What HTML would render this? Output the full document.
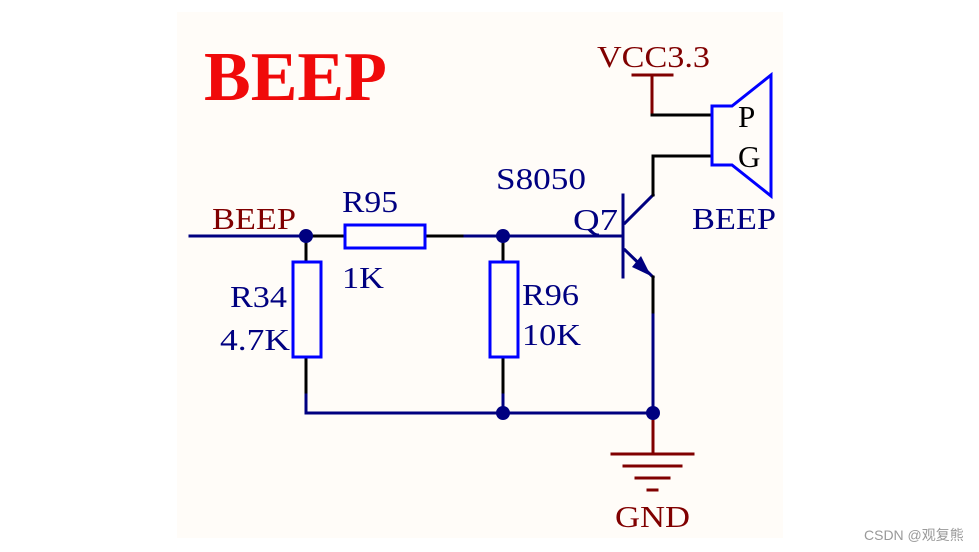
<!DOCTYPE html>
<html><head><meta charset="utf-8"><style>
html,body{margin:0;padding:0;background:#fff;}
svg{display:block;}
text{font-family:"Liberation Serif",serif;}
</style></head><body>
<svg width="979" height="552" viewBox="0 0 979 552" xmlns="http://www.w3.org/2000/svg">
<rect x="177" y="12" width="606" height="526" fill="#fffcf8"/>
<text x="204" y="100" font-size="70" font-weight="bold" fill="#f00a0a">BEEP</text>
<g stroke-width="3" fill="none" stroke-linecap="square">
<line x1="190" y1="236" x2="306" y2="236" stroke="#000080"/>
<line x1="306" y1="236" x2="345" y2="236" stroke="#000"/>
<line x1="425" y1="236" x2="465" y2="236" stroke="#000"/>
<line x1="465" y1="236" x2="622" y2="236" stroke="#000080"/>
<line x1="306" y1="236" x2="306" y2="262" stroke="#000"/>
<line x1="306" y1="357" x2="306" y2="395" stroke="#000"/>
<line x1="306" y1="395" x2="306" y2="413" stroke="#000080"/>
<line x1="503" y1="236" x2="503" y2="262" stroke="#000"/>
<line x1="503" y1="357" x2="503" y2="395" stroke="#000"/>
<line x1="503" y1="395" x2="503" y2="413" stroke="#000080"/>
<line x1="306" y1="413" x2="653" y2="413" stroke="#000080"/>
<line x1="623" y1="195" x2="623" y2="277" stroke="#000080"/>
<line x1="625" y1="223" x2="653" y2="195" stroke="#000080"/>
<line x1="653" y1="195" x2="653" y2="156" stroke="#000"/>
<line x1="653" y1="156" x2="712" y2="156" stroke="#000"/>
<line x1="625" y1="250" x2="653" y2="277" stroke="#000080"/>
<line x1="653" y1="277" x2="653" y2="315" stroke="#000"/>
<line x1="653" y1="315" x2="653" y2="413" stroke="#000080"/>
<line x1="633" y1="75" x2="672" y2="75" stroke="#800000"/>
<line x1="652" y1="75" x2="652" y2="115" stroke="#800000"/>
<line x1="652" y1="115" x2="712" y2="115" stroke="#000"/>
<line x1="653" y1="413" x2="653" y2="454" stroke="#800000"/>
<line x1="612" y1="454" x2="693" y2="454" stroke="#800000"/>
<line x1="624" y1="466" x2="681" y2="466" stroke="#800000"/>
<line x1="636" y1="478" x2="669" y2="478" stroke="#800000"/>
<line x1="648" y1="490" x2="657" y2="490" stroke="#800000"/>
</g>
<polygon points="655,279 645,259 636,270" fill="#000080" transform="translate(-4,-3)"/>
<rect x="345" y="225" width="80" height="23" fill="none" stroke="#0000ff" stroke-width="3"/>
<rect x="293" y="262" width="28" height="95" fill="none" stroke="#0000ff" stroke-width="3"/>
<rect x="490" y="262" width="28" height="95" fill="none" stroke="#0000ff" stroke-width="3"/>
<polygon points="712,106 732,106 771,75 771,196 732,165 712,165" fill="none" stroke="#0000ff" stroke-width="3"/>
<g fill="#000080">
<circle cx="306" cy="236" r="7"/><circle cx="503" cy="236" r="7"/>
<circle cx="503" cy="413" r="7"/><circle cx="653" cy="413" r="7"/>
</g>
<g font-size="31" fill="#000080" lengthAdjust="spacingAndGlyphs">
<text x="212" y="229" fill="#800000" textLength="84" lengthAdjust="spacingAndGlyphs">BEEP</text>
<text x="342" y="212" textLength="56" lengthAdjust="spacingAndGlyphs">R95</text>
<text x="342" y="288" textLength="42" lengthAdjust="spacingAndGlyphs">1K</text>
<text x="230" y="307" textLength="57" lengthAdjust="spacingAndGlyphs">R34</text>
<text x="220" y="350" textLength="70" lengthAdjust="spacingAndGlyphs">4.7K</text>
<text x="522" y="305" textLength="57" lengthAdjust="spacingAndGlyphs">R96</text>
<text x="522" y="345" textLength="59" lengthAdjust="spacingAndGlyphs">10K</text>
<text x="496" y="189" textLength="90" lengthAdjust="spacingAndGlyphs">S8050</text>
<text x="573" y="230" textLength="45" lengthAdjust="spacingAndGlyphs">Q7</text>
<text x="692" y="229" textLength="84" lengthAdjust="spacingAndGlyphs">BEEP</text>
<text x="597" y="67" fill="#800000" textLength="113" lengthAdjust="spacingAndGlyphs">VCC3.3</text>
<text x="615" y="527" fill="#800000" textLength="75" lengthAdjust="spacingAndGlyphs">GND</text>
<text x="738" y="127" fill="#000">P</text>
<text x="738" y="167" fill="#000">G</text>
</g>
<text x="864" y="540" font-size="14" fill="#999" style="font-family:'Liberation Sans','Noto Sans CJK SC',sans-serif">CSDN @观复熊</text>
</svg>
</body></html>
